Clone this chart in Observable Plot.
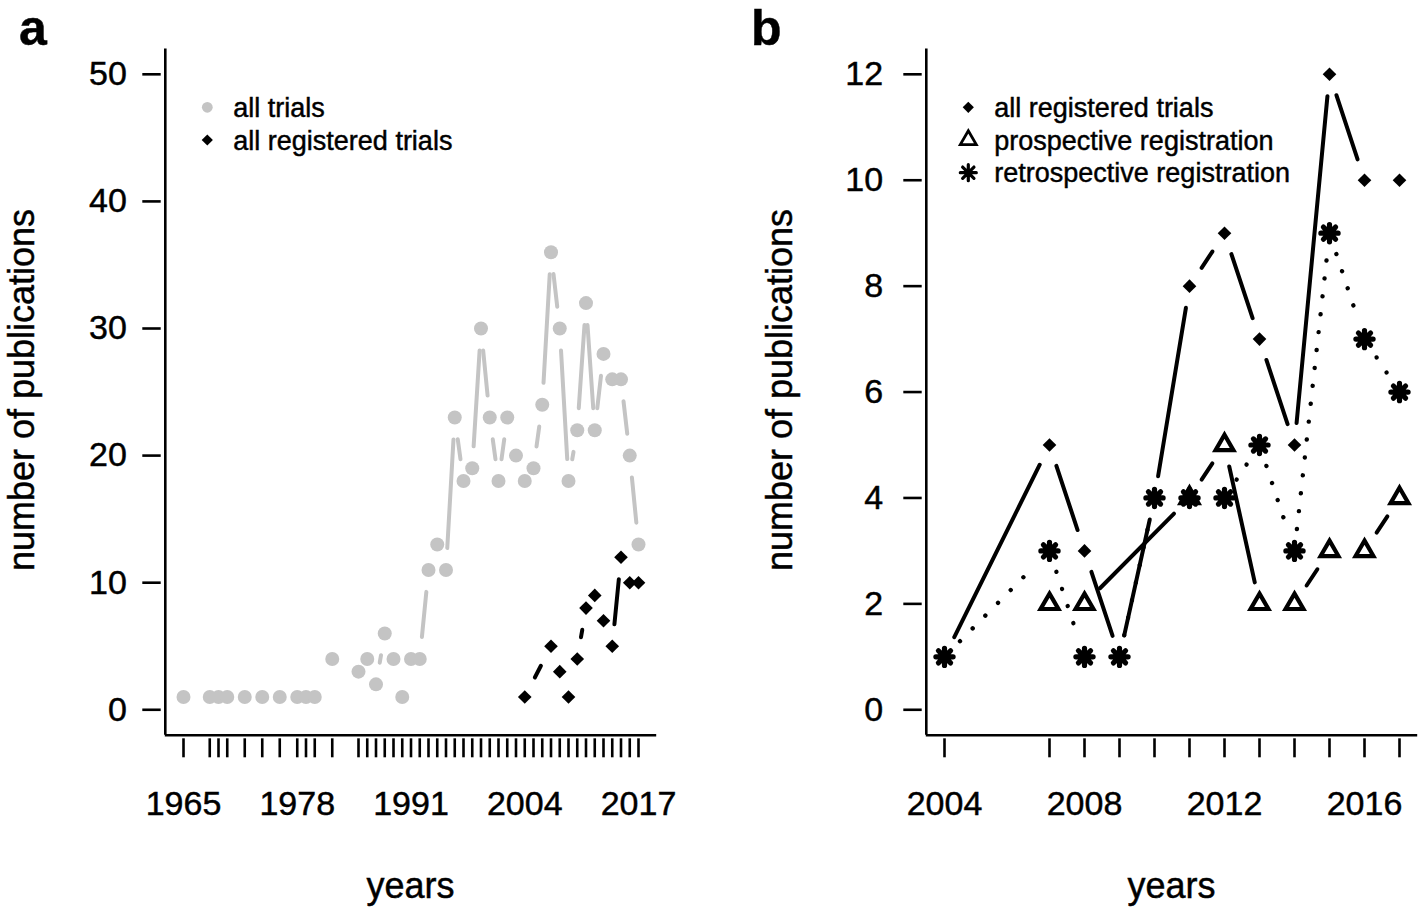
<!DOCTYPE html>
<html>
<head>
<meta charset="utf-8">
<script src="https://cdn.jsdelivr.net/npm/d3@7"></script>
<script src="https://cdn.jsdelivr.net/npm/@observablehq/plot@0.6"></script>
<style>
  html, body { margin: 0; padding: 0; background: #fff; }
  #root { position: relative; width: 1424px; height: 908px; overflow: hidden; background: #fff;
          font-family: "Liberation Sans", Arial, Helvetica, sans-serif; }
  #pa, #pb { position: absolute; top: 0; }
  #pa { left: 0; }
  #pb { left: 712px; }
  #ann { position: absolute; left: 0; top: 0; pointer-events: none; }
  #root text { stroke: black; stroke-width: 0.45px; }
</style>
</head>
<body>
<div id="root">
  <div id="pa"></div>
  <div id="pb"></div>
  <svg id="ann" width="1424" height="908"></svg>
</div>
<script>
// ---------------- data ----------------
// Panel a: publications per year
const yearsAll = [1965,1968,1969,1970,1972,1974,1976,1978,1979,1980,1982,
  1985,1986,1987,1988,1989,1990,1991,1992,1993,1994,1995,1996,1997,1998,1999,
  2000,2001,2002,2003,2004,2005,2006,2007,2008,2009,2010,2011,2012,2013,2014,2015,2016,2017];
const allTrials = [1,1,1,1,1,1,1,1,1,1,4,
  3,4,2,6,4,1,4,4,11,13,11,23,18,19,30,
  23,18,23,20,18,19,24,36,30,18,22,32,22,28,26,26,20,13];
const yearsReg = [2004,2007,2008,2009,2010,2011,2012,2013,2014,2015,2016,2017];
const allRegistered = [1,5,3,1,4,8,9,7,5,12,10,10];

// Panel b: registration timing
const yearsProspective = [2007,2008,2011,2012,2013,2014,2015,2016,2017];
const prospective = [2,2,4,5,2,2,3,3,4];
const yearsRetrospective = [2004,2007,2008,2009,2010,2011,2012,2013,2014,2015,2016,2017];
const retrospective = [1,3,1,1,4,4,4,5,3,9,7,6];

// axes
const yLimA = [0, 50];
const yTicksA = [0, 10, 20, 30, 40, 50];
const xLabelsA = [1965, 1978, 1991, 2004, 2017];
const yLimB = [0, 12];
const yTicksB = [0, 2, 4, 6, 8, 10, 12];
const xLabelsB = [2004, 2008, 2012, 2016];

// texts
const yTitle = "number of publications";
const xTitle = "years";
const legendA = ["all trials", "all registered trials"];
const legendB = ["all registered trials", "prospective registration", "retrospective registration"];
const panelTags = ["a", "b"];

// ---------------- styling ----------------
const FONT = '"Liberation Sans", Arial, Helvetica, sans-serif';
const GREY = "#c4c4c4";
const LW = 4;          // line width
const GAP = 22;        // R type="b" gap around points (px)
const W = 712, H = 908;

// custom R-like symbols (size = pi r^2)
const rOf = size => Math.sqrt(size / Math.PI);
const symDiamond = { draw(ctx, size) { const r = rOf(size);
  ctx.moveTo(0, -r); ctx.lineTo(r, 0); ctx.lineTo(0, r); ctx.lineTo(-r, 0); ctx.closePath(); } };
const symTriangle = { draw(ctx, size) { const r = rOf(size);
  ctx.moveTo(0, -1.155 * r); ctx.lineTo(r, 0.578 * r); ctx.lineTo(-r, 0.578 * r); ctx.closePath(); } };
const symAsterisk = { draw(ctx, size) { const r = rOf(size), d = r / Math.SQRT2;
  ctx.moveTo(-r, 0); ctx.lineTo(r, 0); ctx.moveTo(0, -r); ctx.lineTo(0, r);
  ctx.moveTo(-d, -d); ctx.lineTo(d, d); ctx.moveTo(-d, d); ctx.lineTo(d, -d); } };

function ext(lim) { const d = (lim[1] - lim[0]) * 0.04; return [lim[0] - d, lim[1] + d]; }

function gapped(xs, ys, sx, sy, gap) {
  const out = [];
  for (let i = 0; i < xs.length - 1; i++) {
    const ddx = xs[i + 1] - xs[i], ddy = ys[i + 1] - ys[i];
    const L = Math.hypot(ddx * sx, ddy * sy);
    if (L <= 2 * gap) continue;
    const f = gap / L;
    out.push({ x1: xs[i] + f * ddx, y1: ys[i] + f * ddy, x2: xs[i + 1] - f * ddx, y2: ys[i + 1] - f * ddy });
  }
  return out;
}

function makePanel(cfg) {
  const xDom = ext([d3.min(cfg.xAll), d3.max(cfg.xAll)]);
  const yDom = ext(cfg.yLim);
  const base = {
    width: W, height: H,
    marginLeft: cfg.marginLeft, marginRight: cfg.marginRight,
    marginTop: 48.4, marginBottom: H - 738.3,
    x: { type: "linear", domain: xDom, insetLeft: 4.1 },
    y: { type: "linear", domain: yDom, insetBottom: 3.6 },
    style: { fontFamily: FONT, background: "transparent", overflow: "visible", color: "black" }
  };
  // probe for pixel-per-unit factors
  const probe = Plot.plot({ ...base, marks: [Plot.ruleX([xDom[0]]), Plot.ruleY([yDom[0]])] });
  const xs = probe.scale("x"), ys = probe.scale("y");
  const sx = Math.abs((xs.range[1] - xs.range[0]) / (xs.domain[1] - xs.domain[0]));
  const sy = Math.abs((ys.range[1] - ys.range[0]) / (ys.domain[1] - ys.domain[0]));

  const marks = [
    // L-shaped box
    Plot.ruleX([xDom[0]], { y1: yDom[0], y2: yDom[1], strokeWidth: 2.6, stroke: "black" }),
    Plot.ruleY([yDom[0]], { x1: xDom[0], x2: xDom[1], strokeWidth: 2.6, stroke: "black" }),
    // axes
    Plot.axisY({ ticks: cfg.yTicks, tickSize: 18.4, tickPadding: cfg.yPad, fontSize: 34, strokeWidth: 2.6,
                 tickFormat: d => String(d), label: null }),
    Plot.axisX({ ticks: cfg.xTicks, tickSize: 19, tickFormat: () => "", strokeWidth: 2.6, label: null }),
    Plot.axisX({ ticks: cfg.xLabels, tickSize: 0, tickPadding: 51.7, fontSize: 34,
                 tickFormat: d => String(d), label: null })
  ];
  for (const s of cfg.series) {
    const segs = gapped(s.x, s.y, sx, sy, GAP);
    const pts = s.x.map((x, i) => ({ x, y: s.y[i] }));
    marks.push(Plot.link(segs, { x1: "x1", y1: "y1", x2: "x2", y2: "y2", stroke: s.color,
      strokeWidth: s.lw ?? LW, strokeLinecap: "round", strokeDasharray: s.dash }));
    marks.push(Plot.dot(pts, { x: "x", y: "y", symbol: s.symbol, r: s.r,
      fill: s.fill, stroke: s.stroke ?? "none", strokeWidth: s.sw ?? 0, strokeLinecap: "round" }));
  }
  return Plot.plot({ ...base, marks });
}

const plotA = makePanel({
  xAll: yearsAll, yLim: yLimA, yTicks: yTicksA, xTicks: yearsAll, xLabels: xLabelsA,
  marginLeft: 160.7, marginRight: W - 656.2, yPad: 16,
  series: [
    { x: yearsAll, y: allTrials, color: GREY, symbol: "circle", r: 7, fill: GREY },
    { x: yearsReg, y: allRegistered, color: "black", symbol: symDiamond, r: 6.8, fill: "black" }
  ]
});
document.getElementById("pa").appendChild(plotA);

const plotB = makePanel({
  xAll: yearsReg, yLim: yLimB, yTicks: yTicksB, xTicks: yearsReg, xLabels: xLabelsB,
  marginLeft: 925.8 - 712 - 4.1, marginRight: W - (1417.2 - 712), yPad: 20.6,
  series: [
    { x: yearsReg, y: allRegistered, color: "black", symbol: symDiamond, r: 6.8, fill: "black" },
    { x: yearsProspective, y: prospective, color: "black", symbol: symTriangle, r: 8.9,
      fill: "none", stroke: "black", sw: 4.2 },
    { x: yearsRetrospective, y: retrospective, color: "black", dash: "0.01,18", lw: 4.4,
      symbol: symAsterisk, r: 8.6, fill: "none", stroke: "black", sw: 5.2 }
  ]
});
document.getElementById("pb").appendChild(plotB);

// ---------------- annotations (tags, titles, legends) ----------------
const ann = d3.select("#ann").attr("font-family", FONT);
function symPath(sym, r) {
  const p = d3.path();
  if (sym === "circle") { p.arc(0, 0, r, 0, 2 * Math.PI); return p.toString(); }
  sym.draw(p, Math.PI * r * r); return p.toString();
}
// panel tags
ann.append("text").attr("x", 19).attr("y", 45).attr("font-size", 50).attr("font-weight", "bold").text(panelTags[0]);
ann.append("text").attr("x", 751).attr("y", 45).attr("font-size", 50).attr("font-weight", "bold").text(panelTags[1]);
// axis titles
for (const [cx, by, lx] of [[410.5, 898, 34], [1171.5, 898, 792]]) {
  ann.append("text").attr("x", cx).attr("y", by).attr("text-anchor", "middle").attr("font-size", 36).text(xTitle);
  ann.append("text").attr("transform", `translate(${lx},390) rotate(-90)`).attr("text-anchor", "middle")
     .attr("font-size", 36).text(yTitle);
}
// legends
const legA = [
  { label: legendA[0], d: symPath("circle", 5.4), fill: GREY, stroke: "none", sw: 0 },
  { label: legendA[1], d: symPath(symDiamond, 5.6), fill: "black", stroke: "none", sw: 0 }
];
const legB = [
  { label: legendB[0], d: symPath(symDiamond, 5.6), fill: "black", stroke: "none", sw: 0 },
  { label: legendB[1], d: symPath(symTriangle, 8), fill: "none", stroke: "black", sw: 2.8 },
  { label: legendB[2], d: symPath(symAsterisk, 8), fill: "none", stroke: "black", sw: 3.2 }
];
const rowsY = [107.3, 140, 172.7];
for (const [items, sx, tx] of [[legA, 207.3, 233.3], [legB, 968.3, 994.3]]) {
  items.forEach((it, i) => {
    ann.append("path").attr("d", it.d).attr("transform", `translate(${sx},${rowsY[i]})`)
      .attr("fill", it.fill).attr("stroke", it.stroke).attr("stroke-width", it.sw).attr("stroke-linecap", "round");
    ann.append("text").attr("x", tx).attr("y", rowsY[i]).attr("dy", "0.36em").attr("font-size", 27).text(it.label);
  });
}
</script>
</body>
</html>
